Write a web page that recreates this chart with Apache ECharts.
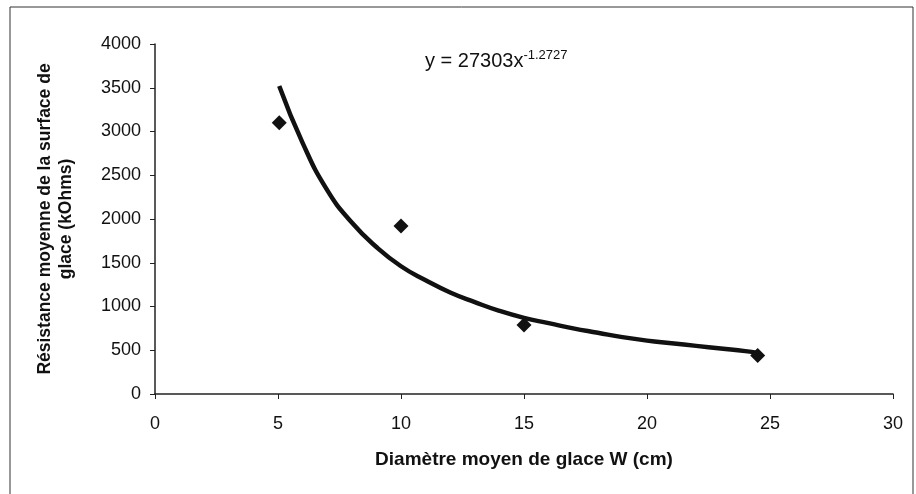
<!DOCTYPE html>
<html><head><meta charset="utf-8">
<script src="https://cdn.jsdelivr.net/npm/echarts@6/dist/echarts.min.js"></script>
<style>html,body{margin:0;padding:0;background:#fff}#c{width:916px;height:494px}</style>
</head><body><div id="c"></div>
<script>
// measured points (diameter cm, resistance kOhms)
const pointX = [5.05, 10, 15, 24.5];
const pointY = [3100, 1920, 790, 440];
// trend line
const trendX = [5.05, 6, 7, 8, 9, 10, 11, 12, 13, 14, 15, 16, 17, 18, 19, 20, 21, 22, 23, 24, 24.5];
const trendY = [3520, 2870, 2330, 1960, 1680, 1460, 1300, 1160, 1050, 950, 870, 810, 750, 700, 650, 610, 580, 550, 520, 490, 470];
const xTicks = [0, 5, 10, 15, 20, 25, 30];
const yTicks = [0, 500, 1000, 1500, 2000, 2500, 3000, 3500, 4000];
const eqText = ['y = 27303x', '-1.2727'];

const font = '"Liberation Sans", Arial, sans-serif';
const chart = echarts.init(document.getElementById('c'));
chart.setOption({
  backgroundColor: '#fff',
  animation: false,
  grid: {left: 155, right: 23, top: 44, bottom: 100},
  graphic: [
    {type: 'rect', shape: {x: 10, y: 7, width: 903, height: 500}, style: {fill: 'none', stroke: '#333', lineWidth: 1}},
    {type: 'text', left: 425, top: 49, style: {
      rich: {a: {fontSize: 20, fontFamily: font, fill: '#111'}, s: {fontSize: 13, fontFamily: font, fill: '#111', verticalAlign: 'top', padding: [0,0,11,0]}},
      text: '{a|' + eqText[0] + '}{s|' + eqText[1] + '}'
    }}
  ],
  xAxis: {
    type: 'value', min: xTicks[0], max: xTicks[xTicks.length - 1], interval: 5,
    name: 'Diamètre moyen de glace W (cm)', nameLocation: 'middle', nameGap: 56,
    nameTextStyle: {fontFamily: font, fontWeight: 'bold', fontSize: 19, color: '#111'},
    axisLine: {lineStyle: {color: '#222', width: 1.5}},
    axisTick: {show: true, length: 5, lineStyle: {color: '#222'}},
    axisLabel: {fontFamily: font, fontSize: 18, color: '#111', margin: 21},
    splitLine: {show: false}
  },
  yAxis: {
    type: 'value', min: yTicks[0], max: yTicks[yTicks.length - 1], interval: 500,
    name: 'Résistance moyenne de la surface de\nglace (kOhms)', nameLocation: 'middle', nameGap: 78,
    nameTextStyle: {fontFamily: font, fontWeight: 'bold', fontSize: 17.5, color: '#111', lineHeight: 21},
    axisLine: {show: true, lineStyle: {color: '#222', width: 1.5}},
    axisTick: {show: true, length: 5, lineStyle: {color: '#222'}},
    axisLabel: {fontFamily: font, fontSize: 18, color: '#111', margin: 14, formatter: v => String(v)},
    splitLine: {show: false}
  },
  series: [
    {type: 'line', data: trendX.map((x, i) => [x, trendY[i]]), smooth: true, showSymbol: false,
     lineStyle: {color: '#111', width: 4.5}, z: 2},
    {type: 'scatter', data: pointX.map((x, i) => [x, pointY[i]]), symbol: 'diamond', symbolSize: 15,
     itemStyle: {color: '#111', opacity: 1}, z: 3}
  ]
});
</script></body></html>
